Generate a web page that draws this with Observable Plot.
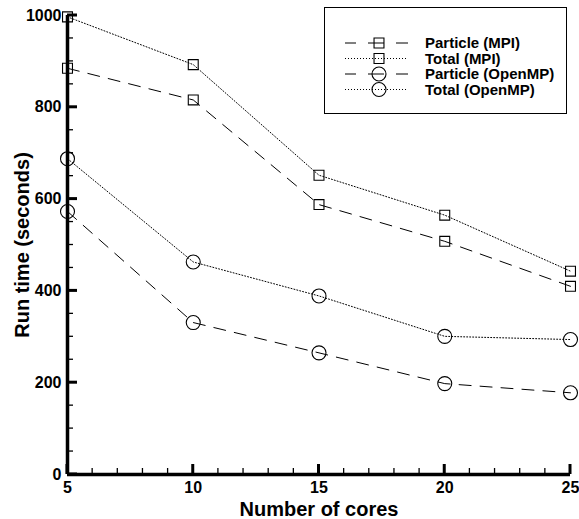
<!DOCTYPE html>
<html>
<head>
<meta charset="utf-8">
<script src="https://cdn.jsdelivr.net/npm/d3@7"></script>
<script src="https://cdn.jsdelivr.net/npm/@observablehq/plot@0.6"></script>
<style>
  html, body { margin: 0; padding: 0; background: #fff; }
  #chart svg { display: block; }
  #chart svg g[aria-label$="tick label"] text { font-weight: bold; }
</style>
</head>
<body>
<div id="chart"></div>
<script>
const cores = [5, 10, 15, 20, 25];
const particleMPI = [885, 816, 588, 508, 410];
const totalMPI = [997, 893, 652, 565, 443];
const particleOpenMP = [573, 331, 265, 198, 178];
const totalOpenMP = [688, 463, 389, 301, 294];
const seriesNames = ["Particle (MPI)", "Total (MPI)", "Particle (OpenMP)", "Total (OpenMP)"];
const yTicks = [0, 200, 400, 600, 800, 1000];
const xTicks = [5, 10, 15, 20, 25];

const seriesValues = [particleMPI, totalMPI, particleOpenMP, totalOpenMP];
const styles = [
  {dash: "12,9", symbol: "square", r: 5.6},
  {dash: "1,2", symbol: "square", r: 5.6},
  {dash: "12,9", symbol: "circle", r: 7},
  {dash: "1,2", symbol: "circle", r: 7}
];
const series = seriesNames.map((name, i) => ({
  name,
  style: styles[i],
  data: cores.map((c, j) => ({cores: c, time: seriesValues[i][j]}))
}));

const yMinor = d3.range(0, 1001, 50).filter(v => !yTicks.includes(v));
const xMinor = d3.range(5, 26, 1).filter(v => !xTicks.includes(v));

const W = 579, H = 519;
const mL = 67, mR = 9, mT = 15, mB = 45;
const font = "'Liberation Sans', Arial, Helvetica, sans-serif";

const plot = Plot.plot({
  width: W, height: H,
  marginLeft: mL, marginRight: mR, marginTop: mT, marginBottom: mB,
  style: {fontFamily: font, background: "#fff", overflow: "visible"},
  x: {domain: [5, 25], ticks: xTicks, label: null},
  y: {domain: [0, 1000], ticks: yTicks, label: null},
  marks: [
    ...series.map(s => Plot.line(s.data, {x: "cores", y: "time", stroke: "#000", strokeWidth: 1, strokeDasharray: s.style.dash})),
    ...series.map(s => Plot.dot(s.data, {x: "cores", y: "time", symbol: s.style.symbol, r: s.style.r, stroke: "#000", strokeWidth: 1.1, fill: "none"})),
    Plot.axisY({ticks: yTicks, tickSize: 0, tickPadding: 6, fontSize: 16, fontWeight: "bold", fill: "#000", tickFormat: d3.format("d"), label: null}),
    Plot.axisX({ticks: xTicks, tickSize: 0, tickPadding: 7, fontSize: 16, fontWeight: "bold", fill: "#000", tickFormat: d3.format("d"), label: null}),
    Plot.ruleX([5], {stroke: "#000", strokeWidth: 3.5}),
    Plot.ruleY([0], {stroke: "#000", strokeWidth: 3.5}),
    Plot.text(["Number of cores"], {frameAnchor: "bottom", lineAnchor: "middle", textAnchor: "middle", dy: 35, fontSize: 20, fontWeight: "bold", fill: "#000"}),
    Plot.text(["Run time (seconds)"], {frameAnchor: "left", lineAnchor: "middle", textAnchor: "middle", dx: -45, rotate: -90, fontSize: 20, fontWeight: "bold", fill: "#000"})
  ]
});

document.getElementById("chart").appendChild(plot);

const svg = d3.select(plot);
const xs = plot.scale("x"), ys = plot.scale("y");
const x0 = xs.apply(5), y0 = ys.apply(0);

// inward ticks placed through Plot's own scales
const tg = svg.append("g").attr("stroke", "#000");
tg.selectAll(".ymin").data(yMinor).join("line")
  .attr("x1", x0).attr("x2", x0 + 6).attr("y1", d => ys.apply(d)).attr("y2", d => ys.apply(d)).attr("stroke-width", 1.3);
tg.selectAll(".xmin").data(xMinor).join("line")
  .attr("y1", y0).attr("y2", y0 - 6).attr("x1", d => xs.apply(d)).attr("x2", d => xs.apply(d)).attr("stroke-width", 1.3);
tg.selectAll(".ymaj").data(yTicks).join("line")
  .attr("x1", x0).attr("x2", x0 + 10).attr("y1", d => ys.apply(d)).attr("y2", d => ys.apply(d)).attr("stroke-width", 3);
tg.selectAll(".xmaj").data(xTicks).join("line")
  .attr("y1", y0).attr("y2", y0 - 10).attr("x1", d => xs.apply(d)).attr("x2", d => xs.apply(d)).attr("stroke-width", 3);

// Legend box
const lg = svg.append("g").attr("font-family", font).attr("text-anchor", "start");
lg.append("rect").attr("x", 324.5).attr("y", 7.5).attr("width", 242).attr("height", 106)
  .attr("fill", "#fff").attr("stroke", "#000").attr("stroke-width", 1);
const rowY0 = 43, rowStep = 15.5;
series.forEach((s, i) => {
  const y = rowY0 + i * rowStep;
  lg.append("line").attr("x1", 345).attr("x2", 408).attr("y1", y).attr("y2", y)
    .attr("stroke", "#000").attr("stroke-width", 1)
    .attr("stroke-dasharray", s.style.dash === "1,2" ? "1,2" : "11,12,16,12,12");
  const sym = d3.symbol(s.style.symbol === "square" ? d3.symbolSquare : d3.symbolCircle, s.style.r * s.style.r * Math.PI);
  lg.append("path").attr("d", sym()).attr("transform", `translate(379,${y})`)
    .attr("fill", "none").attr("stroke", "#000").attr("stroke-width", 1.1);
  lg.append("text").attr("x", 425).attr("y", y).attr("dy", "0.35em").attr("text-anchor", "start")
    .attr("font-size", 15).attr("font-weight", "bold").attr("fill", "#000").text(s.name);
});
</script>
</body>
</html>
